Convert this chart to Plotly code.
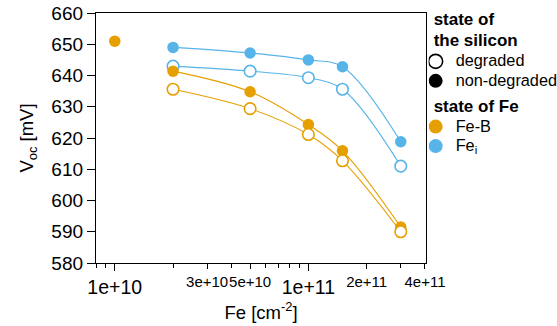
import numpy as np
import plotly.graph_objects as go

# Fe concentration (cm^-2) for the measured series
fe_conc = [2e10, 5e10, 1e11, 1.5e11, 3e11]

# Open-circuit voltage (mV)
voc_fei_nondeg = [649.0, 647.2, 645.0, 642.8, 618.8]
voc_fei_deg = [643.0, 641.4, 639.3, 635.6, 611.0]
voc_feb_nondeg = [641.4, 634.8, 624.3, 615.9, 591.5]
voc_feb_deg = [635.6, 629.4, 621.1, 612.7, 590.0]

# single low-Fe reference sample (Fe-B, non-degraded)
ref_conc = [1e10]
ref_voc = [651.0]

# axis ticks
y_ticks = [580, 590, 600, 610, 620, 630, 640, 650, 660]
x_major_vals = [1e10, 1e11]
x_major_text = ["1e+10", "1e+11"]
x_small_vals = [3e10, 5e10, 2e11, 4e11]
x_small_text = ["3e+10", "5e+10", "2e+11", "4e+11"]
x_minor_vals = [8e9, 9e9, 2e10, 4e10, 6e10, 7e10, 8e10, 9e10, 3e11]

ORANGE = "#E69F00"
BLUE = "#56B4E9"
FONT = "Liberation Sans, Arial, sans-serif"
XRANGE = [np.log10(8e9), np.log10(4.05e11)]

fig = go.Figure()


def series(y, color, filled):
    fig.add_trace(go.Scatter(
        x=fe_conc, y=y, mode="lines+markers", showlegend=False,
        line=dict(color=color, width=1.1, shape="spline", smoothing=1),
        marker=dict(size=11.5, color=color if filled else "white",
                    line=dict(color=color, width=0 if filled else 1.6)),
    ))


series(voc_fei_nondeg, BLUE, True)
series(voc_fei_deg, BLUE, False)
series(voc_feb_nondeg, ORANGE, True)
series(voc_feb_deg, ORANGE, False)

fig.add_trace(go.Scatter(
    x=ref_conc, y=ref_voc, mode="markers", showlegend=False, xaxis="x2",
    marker=dict(size=11.5, color=ORANGE),
))


# legend entries
def lab(t):
    return f'<span style="font-size:16.3px">{t}</span>'


legend_items = [
    ("si", "state of<br>the silicon", 16, "degraded", "white", "black", 1.6),
    ("si", None, None, "non-degraded", "black", "black", 0),
    ("fe", "state of Fe", 14, "Fe-B", ORANGE, ORANGE, 0),
    ("fe", None, None, "Fe<sub>i</sub>", BLUE, BLUE, 0),
]
for grp, gtitle, gsize, name, fill, edge, lw in legend_items:
    kw = {}
    if gtitle:
        kw["legendgrouptitle"] = dict(
            text=f'<b><span style="font-size:17px">{gtitle}</span></b>',
            font=dict(size=gsize, family=FONT, color="black"))
    fig.add_trace(go.Scatter(
        x=[None], y=[None], mode="markers", name=lab(name), legendgroup=grp,
        marker=dict(size=14, color=fill, line=dict(color=edge, width=lw)),
        **kw))

fig.update_layout(
    width=557, height=326,
    margin=dict(l=96, r=131, t=13, b=63, autoexpand=False),
    plot_bgcolor="white", paper_bgcolor="white",
    font=dict(family=FONT, color="black"),
    showlegend=True,
    legend=dict(x=1.008, xanchor="left", y=1.044, yanchor="top",
                font=dict(size=12.7, family=FONT, color="black"),
                indentation=-13, tracegroupgap=5,
                bgcolor="rgba(0,0,0,0)"),
    xaxis=dict(
        type="log", range=XRANGE, showgrid=False, zeroline=False,
        showline=True, mirror=True, linecolor="black", linewidth=1.3,
        ticks="outside", ticklen=5, tickwidth=1.2, tickcolor="black",
        tickvals=x_small_vals, ticktext=x_small_text, tickangle=0,
        tickfont=dict(size=15, family=FONT),
        minor=dict(tickvals=x_minor_vals, ticks="outside", ticklen=3.5,
                   tickwidth=1.2, tickcolor="black"),
        title=dict(text="Fe [cm<sup>-2</sup>]", font=dict(size=18.5, family=FONT),
                   standoff=16),
    ),
    xaxis2=dict(
        type="log", range=XRANGE, overlaying="x", anchor="y", side="bottom",
        showgrid=False, zeroline=False, showline=False,
        ticks="outside", ticklen=7, tickwidth=1.2, tickcolor="black",
        tickvals=x_major_vals, ticktext=x_major_text, tickangle=0,
        tickfont=dict(size=19.5, family=FONT),
    ),
    yaxis=dict(
        range=[580, 660], tickvals=y_ticks, showgrid=False, zeroline=False,
        showline=True, mirror=True, linecolor="black", linewidth=1.3,
        ticks="outside", ticklen=8, tickwidth=1.2, tickcolor="black",
        tickfont=dict(size=19, family=FONT),
        title=dict(text="V<sub>oc</sub> [mV]", font=dict(size=18.5, family=FONT),
                   standoff=12),
    ),
)

fig.write_html("out.html")
